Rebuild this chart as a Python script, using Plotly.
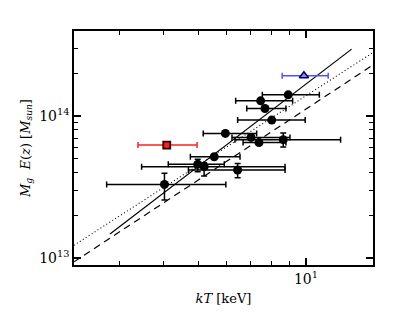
import plotly.graph_objects as go
import numpy as np

# --- black sample ---
kT = [8.92, 7.47, 7.68, 8.02, 5.95, 7.02, 7.39, 8.64, 5.54, 4.98, 5.19, 6.44, 4.02]
kT_lo = [7.55, 6.36, 6.83, 6.44, 5.16, 6.21, 6.67, 6.33, 4.75, 4.12, 3.47, 4.69, 2.77]
kT_hi = [10.9, 9.18, 8.79, 9.95, 7.28, 9.02, 8.79, 12.5, 6.54, 5.91, 8.74, 8.74, 5.97]
Mg = [1.41e14, 1.28e14, 1.13e14, 9.37e13, 7.55e13, 7.07e13, 6.50e13, 6.82e13,
      5.17e13, 4.57e13, 4.40e13, 4.17e13, 3.30e13]
Mg_lo = [1.41e14, 1.28e14, 1.13e14, 9.37e13, 7.55e13, 7.07e13, 6.50e13, 6.05e13,
         5.17e13, 4.06e13, 3.78e13, 3.67e13, 2.56e13]
Mg_hi = [1.41e14, 1.28e14, 1.13e14, 9.37e13, 7.55e13, 7.07e13, 6.50e13, 7.59e13,
         5.17e13, 4.96e13, 4.69e13, 4.64e13, 3.95e13]

# --- red point ---
kT_red = [4.08]; kT_red_lo = [3.39]; kT_red_hi = [4.96]; Mg_red = [6.25e13]
# --- blue point ---
kT_blue = [9.87]; kT_blue_lo = [8.58]; kT_blue_hi = [11.54]; Mg_blue = [1.92e14]

# --- relations ---
solid_kT = [2.83, 13.42]; solid_M = [1.476e13, 2.96e14]
dot_kT = [2.245, 15.4]; dot_M = [1.23e13, 2.80e14]
dash_kT = [2.245, 15.4]; dash_M = [9.4e12, 2.29e14]

x_ticks = [10]; x_ticktext = ["10<sup>1</sup>"]
y_ticks = [1e13, 1e14]; y_ticktext = ["10<sup>13</sup>", "10<sup>14</sup>"]

def diff(a, b):
    return list(np.array(a) - np.array(b))

fig = go.Figure()
fig.add_trace(go.Scatter(x=dot_kT, y=dot_M, mode="lines",
                         line=dict(color="black", width=1.1, dash="1px,2.5px")))
fig.add_trace(go.Scatter(x=dash_kT, y=dash_M, mode="lines",
                         line=dict(color="black", width=1.2, dash="7px,5px")))
fig.add_trace(go.Scatter(x=solid_kT, y=solid_M, mode="lines",
                         line=dict(color="black", width=1.2)))

fig.add_trace(go.Scatter(
    x=kT, y=Mg, mode="markers",
    marker=dict(symbol="circle", size=9, color="black"),
    error_x=dict(type="data", symmetric=False, array=diff(kT_hi, kT), arrayminus=diff(kT, kT_lo),
                 color="black", thickness=1.5, width=3),
    error_y=dict(type="data", symmetric=False, array=diff(Mg_hi, Mg), arrayminus=diff(Mg, Mg_lo),
                 color="black", thickness=1.5, width=3),
))
fig.add_trace(go.Scatter(
    x=kT_red, y=Mg_red, mode="markers",
    marker=dict(symbol="square", size=7, color="#ff2020", line=dict(color="#300000", width=1.8)),
    error_x=dict(type="data", symmetric=False, array=diff(kT_red_hi, kT_red),
                 arrayminus=diff(kT_red, kT_red_lo), color="#ff2020", thickness=1.5, width=3),
))
fig.add_trace(go.Scatter(
    x=kT_blue, y=Mg_blue, mode="markers",
    marker=dict(symbol="triangle-up", size=8, color="#8a8aff", line=dict(color="#000060", width=1.5)),
    error_x=dict(type="data", symmetric=False, array=diff(kT_blue_hi, kT_blue),
                 arrayminus=diff(kT_blue, kT_blue_lo), color="#5050ff", thickness=1.5, width=3),
))

x_minor = [3, 4, 5, 6, 7, 8, 9]
y_minor = [2e13, 3e13, 4e13, 5e13, 6e13, 7e13, 8e13, 9e13, 2e14, 3e14]

fig.update_layout(
    width=407, height=304,
    margin=dict(l=66, r=42, t=23, b=47),
    plot_bgcolor="white", paper_bgcolor="white",
    showlegend=False,
    font=dict(family="DejaVu Serif", size=13, color="black"),
    xaxis=dict(type="log", range=[np.log10(2.245), np.log10(15.4)],
               showgrid=False, zeroline=False, automargin=False,
               showline=True, linecolor="black", linewidth=1.5, mirror="ticks",
               ticks="inside", ticklen=7, tickwidth=1.5, tickcolor="black",
               tickvals=x_ticks, ticktext=x_ticktext, tickfont=dict(size=14),
               minor=dict(tickvals=x_minor, ticks="inside", ticklen=4, tickwidth=1.2,
                          tickcolor="black", showgrid=False),
               title=dict(text="<i>kT</i> [keV]", font=dict(size=13), standoff=8)),
    yaxis=dict(type="log", range=[12.951, 14.599],
               showgrid=False, zeroline=False, automargin=False,
               showline=True, linecolor="black", linewidth=1.5, mirror="ticks",
               ticks="inside", ticklen=7, tickwidth=1.5, tickcolor="black",
               tickvals=y_ticks, ticktext=y_ticktext, tickfont=dict(size=14),
               minor=dict(tickvals=y_minor, ticks="inside", ticklen=4, tickwidth=1.2,
                          tickcolor="black", showgrid=False),
               title=dict(text="<i>M<sub>g</sub>  E</i>(<i>z</i>) [<i>M<sub>sun</sub></i>]",
                          font=dict(size=13), standoff=6)),
)

fig.write_html("out.html")
